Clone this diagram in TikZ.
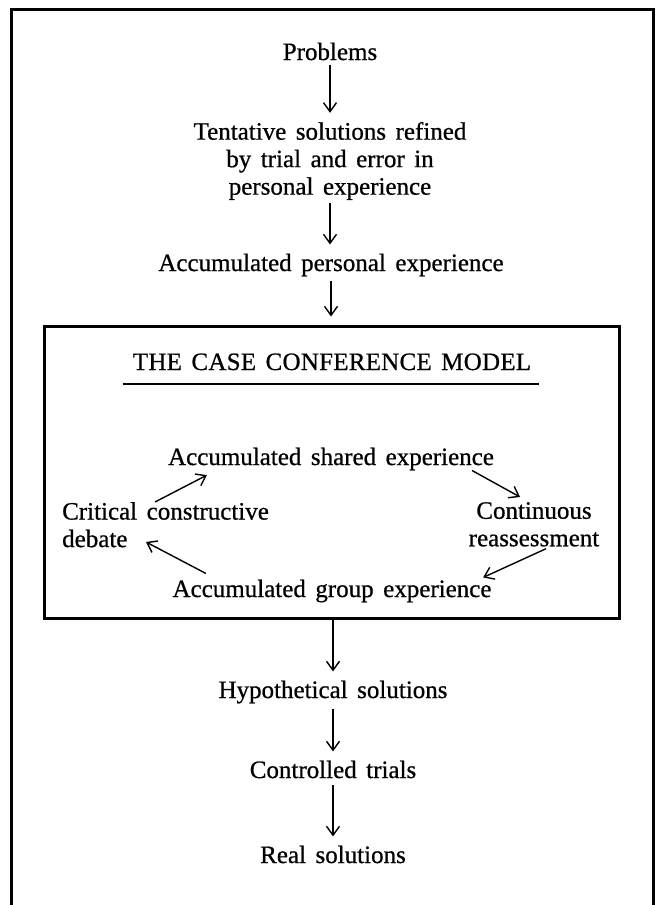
\documentclass[tikz,border=0pt]{standalone}
\usepackage{fontspec}
\setmainfont{Liberation Serif}[FakeBold=0.7]
\usetikzlibrary{arrows.meta,calc}
\newcommand{\diagfont}{\fontsize{25}{27.5}\selectfont\spaceskip 0.38em\relax}

\begin{document}
\begin{tikzpicture}[x=1pt,y=-1pt,
  txt/.style={inner sep=0pt, align=center, font={\diagfont}},
  arr/.style={line width=1.4pt,
    -{Straight Barb[length=9pt,width=13pt,line width=1.4pt]}},
  flow/.style={arr, shorten <=5pt, shorten >=9pt},
  frame/.style={line width=3pt}]
\useasboundingbox (0,0) rectangle (657,905);

% outer frame, open at the bottom
\draw[frame] (11,905) -- (11,9) -- (653,9) -- (653,905);

% upper chain
\node[txt, anchor=base] (prob) at (330,60) {Problems};
\node[txt] (tent) at (330,161)
  {Tentative solutions refined\\by trial and error in\\personal experience};
\node[txt, anchor=base] (accp) at (331,271) {Accumulated personal experience};

% the case conference box
\node[draw, frame, inner sep=0pt, minimum width=575pt, minimum height=292pt]
  (box) at (331.5,472) {};
\node[txt, anchor=base, font={\diagfont\addfontfeatures{LetterSpace=1}}] (title)
  at (332,370) {THE CASE CONFERENCE MODEL};
\draw[line width=2.4pt] ($(title.base west)+(-10,14)$) -- ($(title.base east)+(8,14)$);

\node[txt, anchor=base] (shared) at (331,465) {Accumulated shared experience};
\node[txt, align=left, anchor=north west] (crit) at (62,502)
  {Critical constructive\\debate};
\node[txt, anchor=north] (cont) at (534,502) {Continuous\\reassessment};
\node[txt, anchor=base] (group) at (332,597) {Accumulated group experience};

% lower chain
\node[txt, anchor=base] (hyp) at (333,698) {Hypothetical solutions};
\node[txt, anchor=base] (ctrl) at (333,778) {Controlled trials};
\node[txt, anchor=base] (real) at (333,863) {Real solutions};

% vertical flow arrows
\draw[flow] (prob.south) -- (tent.north);
\draw[flow, shorten <=3pt] (tent.south) -- (tent.south |- accp.north);
\draw[flow, shorten <=4pt, shorten >=8pt] (accp.south) -- (accp.south |- box.north);
\draw[flow, shorten <=0pt] (box.south -| hyp.north) -- (hyp.north);
\draw[flow] (hyp.south) -- (ctrl.north);
\draw[flow, shorten <=7pt] (ctrl.south) -- (real.north);

% the cycle inside the box
\draw[arr] ($(crit.north west)+(93,0)$) -- ($(shared.south west)+(39,4.6)$);
\draw[arr] ($(shared.south east)+(-22,0)$) -- ($(cont.north)+(-14,-5)$);
\draw[arr] ($(cont.south)+(12,2)$) -- ($(group.north east)+(-8.5,-2)$);
\draw[arr] ($(group.north west)+(33.5,-6)$) -- ($(crit.south west)+(84,-5.5)$);
\end{tikzpicture}
\end{document}
